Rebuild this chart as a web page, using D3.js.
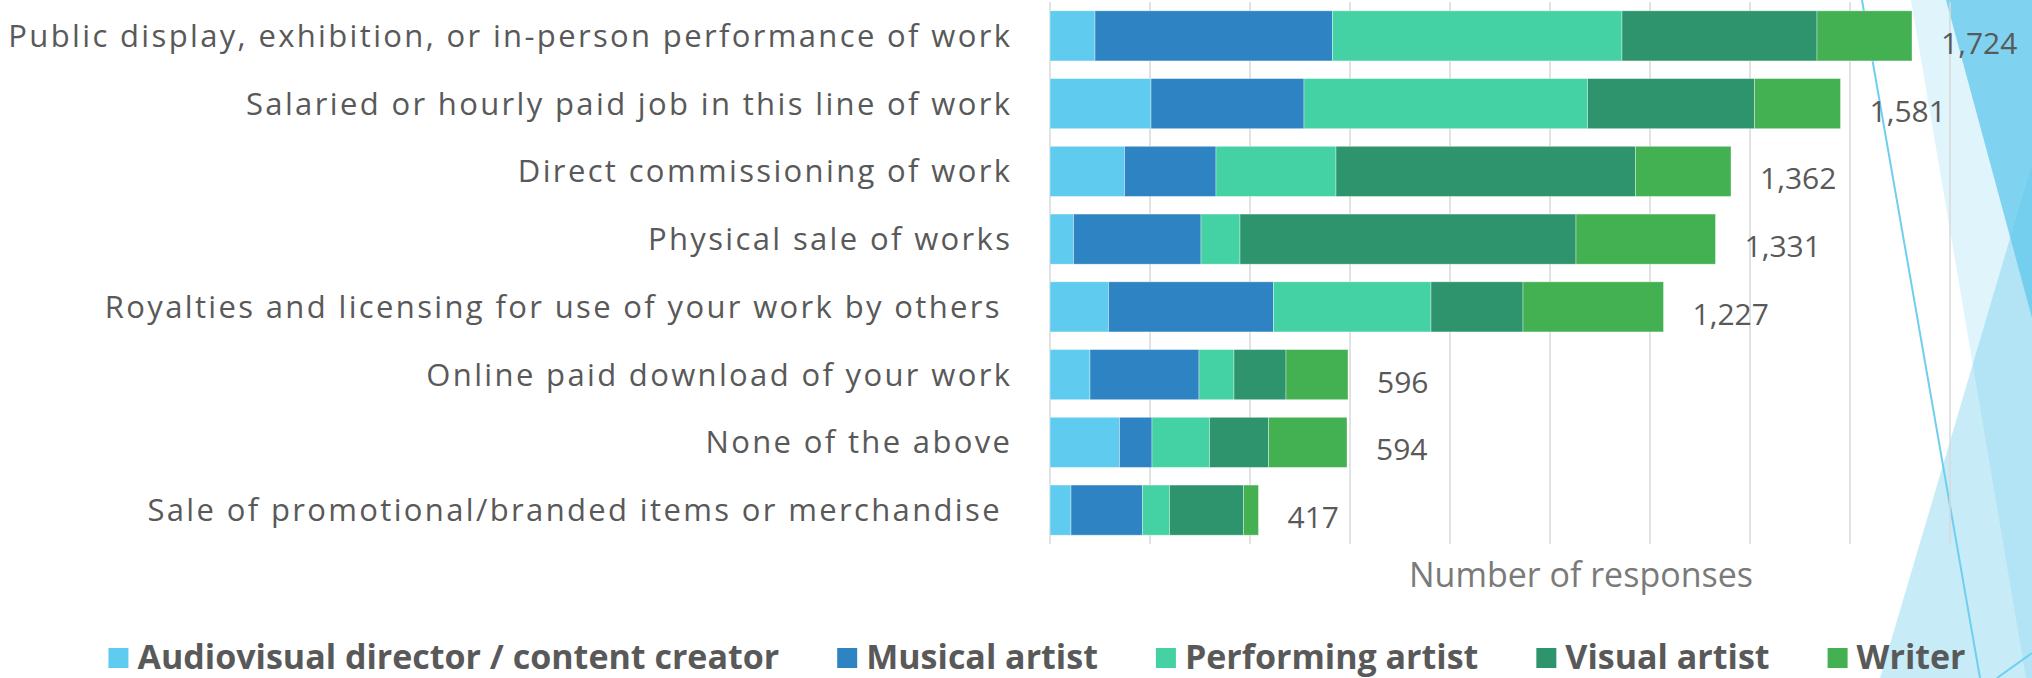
<!DOCTYPE html>
<html><head><meta charset="utf-8">
<script src="https://cdn.jsdelivr.net/npm/d3@7"></script>
<style>
body{margin:0;background:#fff;}
svg{display:block;}
text{font-family:"Open Sans",sans-serif;white-space:pre;}
</style>
</head><body>
<svg id="c" width="2032" height="678"></svg>
<script>
const categories = [
  "Public display, exhibition, or in-person performance of work",
  "Salaried or hourly paid job in this line of work",
  "Direct commissioning of work",
  "Physical sale of works",
  "Royalties and licensing for use of your work by others ",
  "Online paid download of your work",
  "None of the above",
  "Sale of promotional/branded items or merchandise "
];
const seriesNames = ["Audiovisual director / content creator","Musical artist","Performing artist","Visual artist","Writer"];
const audiovisual = [90, 202, 149, 47, 117, 80, 139, 42];
const musical     = [475, 306, 183, 255, 330, 218, 65, 143];
const performing  = [579, 567, 240, 78, 315, 70, 115, 54];
const visual      = [390, 334, 599, 672, 184, 104, 118, 148];
const writer      = [190, 172, 191, 279, 281, 124, 157, 30];
const totals      = [1724, 1581, 1362, 1331, 1227, 596, 594, 417];
const xTicks = [0,200,400,600,800,1000,1200,1400,1600,1800];
const axisTitle = "Number of responses";
const colors = ["#5ECBEF","#2E84C3","#44D1A3","#2E946E","#43B052"];

const seriesArrays = [audiovisual, musical, performing, visual, writer];
const table = categories.map((c,i)=>{
  const o = {cat:c};
  seriesNames.forEach((s,j)=>o[s]=seriesArrays[j][i]);
  return o;
});

const svg = d3.select("#c");

// background decoration (slide theme facets)
const deco = svg.append("g");
deco.append("polygon").attr("points","1880,678 2032,164 2032,678").attr("fill","#5FC8EC").attr("fill-opacity",0.35);
deco.append("polygon").attr("points","1911,0 2032,0 2032,678 2026,678").attr("fill","#5FC8EC").attr("fill-opacity",0.2);
deco.append("polygon").attr("points","1946,0 2032,0 2032,318").attr("fill","#5FC8EC").attr("fill-opacity",0.75);
deco.append("line").attr("x1",1862).attr("y1",0).attr("x2",1980).attr("y2",678).attr("stroke","#6FCFEF").attr("stroke-width",2);
deco.append("line").attr("x1",1997).attr("y1",678).attr("x2",2032).attr("y2",653).attr("stroke","#6FCFEF").attr("stroke-width",2);

const x = d3.scaleLinear().domain([0,1800]).range([1050,1950]);
const y = d3.scaleBand().domain(categories).range([2,544]).paddingInner(0.26).paddingOuter(0.13);

// gridlines
svg.append("g").selectAll("line").data(xTicks).join("line")
  .attr("x1",d=>x(d)).attr("x2",d=>x(d)).attr("y1",2).attr("y2",544)
  .attr("stroke","#D9D9D9").attr("stroke-width",1.5);

// bars
const stack = d3.stack().keys(seriesNames)(table);
svg.append("g").selectAll("g").data(stack).join("g")
  .attr("fill",(d,i)=>colors[i])
  .selectAll("rect").data(d=>d).join("rect")
  .attr("x",d=>x(d[0])).attr("width",d=>x(d[1])-x(d[0]))
  .attr("y",d=>y(d.data.cat)).attr("height",y.bandwidth())
  .attr("stroke","#ffffff").attr("stroke-opacity",0.45).attr("stroke-width",0.8);

// category labels
const catG = svg.append("g");
const catTexts = catG.selectAll("text").data(categories).join("text")
  .attr("text-anchor","end").attr("fill","#595959")
  .attr("font-size",31)
  .attr("y",d=>y(d)+y.bandwidth()/2+11)
  .text(d=>d);
const w0 = catTexts.nodes()[0].getComputedTextLength();
const ls = (1004 - w0)/categories[0].length;
catTexts.attr("letter-spacing",ls).attr("x",1010+ls);

// total labels
svg.append("g").selectAll("text").data(totals).join("text")
  .attr("x",d=>x(d)+29)
  .attr("y",(d,i)=>y(categories[i])+y.bandwidth()/2+18)
  .attr("font-size",30).attr("fill","#595959")
  .text(d=>d3.format(",")(d));

// axis title
svg.append("text").attr("x",1581).attr("y",587).attr("text-anchor","middle")
  .attr("font-size",34).attr("fill","#7A7A7A").text(axisTitle);

// legend
const lg = svg.append("g");
const items = lg.selectAll("g").data(seriesNames).join("g");
items.append("rect").attr("width",20).attr("height",20).attr("y",648).attr("fill",(d,i)=>colors[i]);
const lt = items.append("text").attr("y",669).attr("font-size",34).attr("font-weight",700)
  .attr("fill","#595959").text(d=>d);
const widths = lt.nodes().map(n=>n.getComputedTextLength());
const total = d3.sum(widths) + seriesNames.length*29 + (seriesNames.length-1)*58;
let cx = 1037 - total/2;
items.each(function(d,i){
  d3.select(this).attr("transform",`translate(${cx},0)`);
  d3.select(this).select("text").attr("x",29);
  cx += 29 + widths[i] + 58;
});
</script>
</body></html>
